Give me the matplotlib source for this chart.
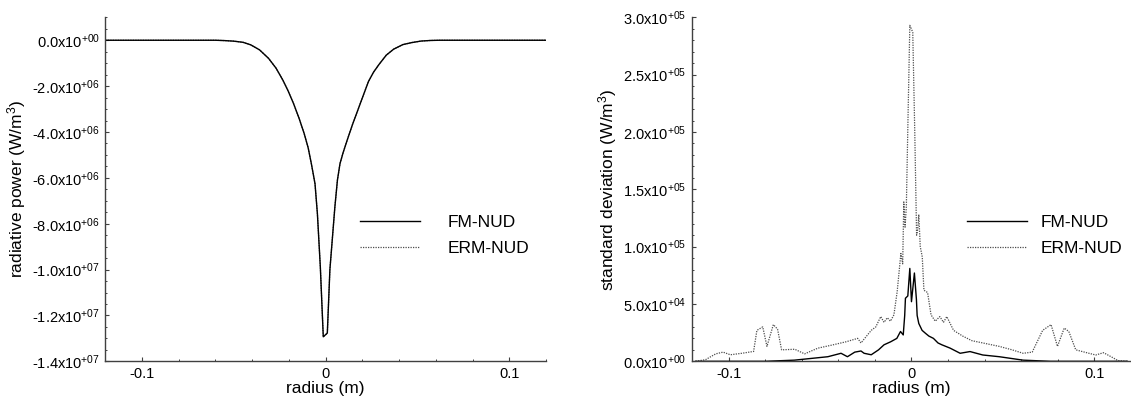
import matplotlib
matplotlib.use("Agg")
import matplotlib.pyplot as plt

plt.rcParams['font.family'] = ['Liberation Sans', 'DejaVu Sans']
plt.rcParams['mathtext.default'] = 'regular'

# radiative power profile (both solvers give the same curve)
r_power = [-0.12, -0.06, -0.055, -0.05, -0.045, -0.0408, -0.036, -0.0311, -0.027,
           -0.0233, -0.0205, -0.0175, -0.0145, -0.0117, -0.0095, -0.0078, -0.0058,
           -0.0045, -0.0029, -0.0013, 0.0009, 0.0023, 0.005, 0.0064, 0.0078, 0.0095,
           0.0117, 0.0145, 0.0175, 0.0205, 0.0233, 0.026, 0.029, 0.033, 0.037, 0.042,
           0.047, 0.052, 0.057, 0.062, 0.12]
fm_power = [0.0, 0.0, -1.5e4, -4.0e4, -9.0e4, -2.0e5, -4.2e5, -7.9e5, -1.22e6,
            -1.74e6, -2.2e6, -2.76e6, -3.4e6, -4.07e6, -4.7e6, -5.38e6, -6.26e6,
            -7.57e6, -9.9e6, -1.293e7, -1.277e7, -1.0e7, -7.28e6, -6.1e6, -5.38e6, -4.9e6,
            -4.36e6, -3.7e6, -3.05e6, -2.4e6, -1.8e6, -1.4e6, -1.06e6, -6.5e5, -3.9e5, -1.9e5,
            -1.0e5, -3.5e4, -1.0e4, 0.0, 0.0]
erm_power = list(fm_power)

# standard deviation, FM-NUD
r_fm = [-0.118, -0.08, -0.064, -0.0457, -0.0385, -0.035, -0.031, -0.0276, -0.0259,
        -0.022, -0.018, -0.015, -0.0114, -0.008, -0.006, -0.0045, -0.0037, -0.0033,
        -0.002, -0.0009, 0.0, 0.0016, 0.0027, 0.0031, 0.004, 0.0058, 0.0076, 0.0095,
        0.012, 0.0145, 0.0166, 0.0211, 0.0266, 0.032, 0.039, 0.048, 0.061, 0.076, 0.118]
fm_std = [0.0, 0.0, 1.0e3, 4.0e3, 7.0e3, 4.0e3, 8.0e3, 9.0e3, 7.0e3,
          5.7e3, 1.0e4, 1.44e4, 1.7e4, 2.0e4, 2.6e4, 2.3e4, 4.0e4, 5.5e4,
          5.7e4, 8.1e4, 5.2e4, 7.7e4, 5.4e4, 4.0e4, 3.3e4, 2.7e4, 2.45e4, 2.2e4,
          2.0e4, 1.6e4, 1.44e4, 1.15e4, 7.0e3, 8.5e3, 5.5e3, 4.0e3, 1.0e3, 0.0, 0.0]

# standard deviation, ERM-NUD
r_erm = [-0.118, -0.1126, -0.107, -0.103, -0.099, -0.0927, -0.0863, -0.0845, -0.0813,
         -0.079, -0.0755, -0.0732, -0.071, -0.0638, -0.0584, -0.0511, -0.0439, -0.0358,
         -0.0294, -0.0276, -0.022, -0.0195, -0.0168, -0.015, -0.0132, -0.0115, -0.0096,
         -0.0078, -0.0058, -0.0048, -0.0042, -0.0035, -0.0028, -0.0018, -0.0009, 0.0007,
         0.0018, 0.0028, 0.0034, 0.004, 0.0048, 0.0059, 0.0068, 0.0088, 0.0107, 0.013,
         0.0155, 0.0175, 0.0193, 0.023, 0.028, 0.033, 0.039, 0.048, 0.055, 0.061, 0.066,
         0.0717, 0.0763, 0.0798, 0.0835, 0.086, 0.0898, 0.097, 0.1007, 0.105, 0.1097,
         0.113, 0.118]
erm_std = [0.0, 1.4e3, 6.5e3, 8.0e3, 5.7e3, 7.0e3, 8.6e3, 2.7e4, 3.0e4,
           1.3e4, 3.2e4, 2.8e4, 1.0e4, 1.05e4, 6.5e3, 1.15e4, 1.4e4, 1.7e4,
           2.0e4, 1.6e4, 2.7e4, 3.0e4, 3.9e4, 3.4e4, 3.8e4, 3.5e4, 4.05e4,
           6.1e4, 9.4e4, 8.5e4, 1.39e5, 1.17e5, 1.35e5, 2.2e5, 2.93e5, 2.87e5,
           2.0e5, 1.1e5, 1.15e5, 1.28e5, 1.0e5, 9.1e4, 6.2e4, 6.0e4, 4.05e4, 3.5e4,
           3.9e4, 3.4e4, 3.9e4, 2.7e4, 2.2e4, 1.8e4, 1.6e4, 1.3e4, 1.0e4, 7.0e3, 8.0e3,
           2.7e4, 3.2e4, 1.3e4, 2.9e4, 2.6e4, 1.0e4, 7.0e3, 5.5e3, 7.5e3, 3.5e3,
           5.0e2, 0.0]

x_ticks = [-0.1, 0.0, 0.1]
x_labels = ['-0.1', '0', '0.1']
power_ticks = [0.0, -2e6, -4e6, -6e6, -8e6, -1e7, -1.2e7, -1.4e7]
power_labels = ['0.0x10$^{+00}$', '-2.0x10$^{+06}$', '-4.0x10$^{+06}$', '-6.0x10$^{+06}$',
                '-8.0x10$^{+06}$', '-1.0x10$^{+07}$', '-1.2x10$^{+07}$', '-1.4x10$^{+07}$']
std_ticks = [0.0, 5e4, 1e5, 1.5e5, 2e5, 2.5e5, 3e5]
std_labels = ['0.0x10$^{+00}$', '5.0x10$^{+04}$', '1.0x10$^{+05}$', '1.5x10$^{+05}$',
              '2.0x10$^{+05}$', '2.5x10$^{+05}$', '3.0x10$^{+05}$']

fig = plt.figure(figsize=(11.31, 3.98), dpi=100)
ax1 = fig.add_axes([0.0931, 0.0922, 0.3897, 0.8643])
ax2 = fig.add_axes([0.6118, 0.0922, 0.3882, 0.8643])

solid = dict(color='black', lw=1.0)
dotted = dict(color='0.3', lw=0.9, linestyle=(0, (1, 1)))

ax1.plot(r_power, erm_power, label='ERM-NUD', **dotted)
ax1.plot(r_power, fm_power, label='FM-NUD', **solid)
ax2.plot(r_erm, erm_std, label='ERM-NUD', **dotted)
ax2.plot(r_fm, fm_std, label='FM-NUD', **solid)

lab_fs = 12.5

ax1.set_ylim(-1.4e7, 1.0e6)
ax1.set_yticks(power_ticks)
ax1.set_yticklabels(power_labels)
ax1.set_yticks([i * 5e5 for i in range(-28, 3)], minor=True)
ax1.set_ylabel('radiative power (W/m$^3$)', fontsize=lab_fs, labelpad=3)

ax2.set_ylim(0, 3.0e5)
ax2.set_yticks(std_ticks)
ax2.set_yticklabels(std_labels)
ax2.set_yticks([i * 1e4 for i in range(0, 31)], minor=True)
ax2.set_ylabel('standard deviation (W/m$^3$)', fontsize=lab_fs, labelpad=3)

legend_pos = {ax1: (0.578, 1.6), ax2: (0.626, 0.8)}

for ax in (ax1, ax2):
    ax.set_xlim(-0.12, 0.12)
    ax.set_xticks(x_ticks)
    ax.set_xticklabels(x_labels)
    ax.set_xticks([i * 0.02 for i in range(-6, 7)], minor=True)
    ax.set_xlabel('radius (m)', fontsize=lab_fs, labelpad=0)
    for s in ('top', 'right'):
        ax.spines[s].set_visible(False)
    for s in ('left', 'bottom'):
        ax.spines[s].set_color('0.25')
        ax.spines[s].set_linewidth(1.0)
    ax.tick_params(which='major', direction='in', length=3, width=0.8,
                   color='0.25', labelsize=10.5, pad=4)
    ax.tick_params(which='minor', direction='in', length=1.6, width=0.7, color='0.25')
    handles, labels = ax.get_legend_handles_labels()
    lx, tpad = legend_pos[ax]
    ax.legend(handles[::-1], labels[::-1], loc='center left',
              bbox_to_anchor=(lx, 0.366), borderpad=0, borderaxespad=0,
              frameon=False, fontsize=lab_fs, handlelength=3.45, handletextpad=tpad,
              labelspacing=0.58)

fig.savefig('out.png', dpi=100)
